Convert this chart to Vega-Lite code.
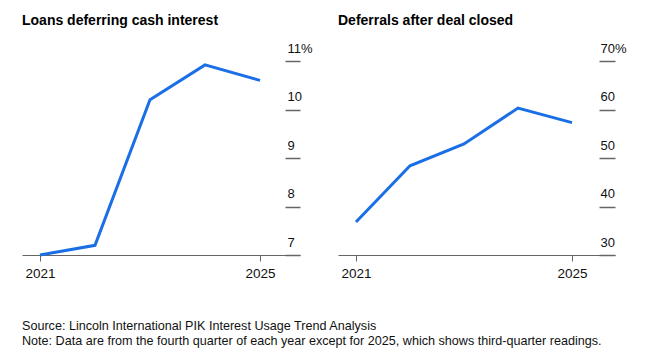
{
  "$schema": "https://vega.github.io/schema/vega-lite/v6.json",
  "background": "white",
  "padding": {"left": 22, "top": 14, "right": 10, "bottom": 5},
  "bounds": "flush",
  "spacing": 38,
  "config": {
    "font": "Liberation Sans",
    "view": {"stroke": null},
    "axis": {"labelFont": "Liberation Sans", "labelColor": "#111", "title": null, "grid": false}
  },
  "title": {
    "text": ["Source: Lincoln International PIK Interest Usage Trend Analysis", "Note: Data are from the fourth quarter of each year except for 2025, which shows third-quarter readings."],
    "orient": "bottom",
    "anchor": "start",
    "fontSize": 12.6,
    "fontWeight": "normal",
    "color": "#111",
    "lineHeight": 15.5,
    "offset": 40
  },
  "datasets": {
    "loans": [
      {"year": 2021, "value": 7.0},
      {"year": 2022, "value": 7.2},
      {"year": 2023, "value": 10.2},
      {"year": 2024, "value": 10.92},
      {"year": 2025, "value": 10.6}
    ],
    "deferrals": [
      {"year": 2021, "value": 36.8},
      {"year": 2022, "value": 48.4},
      {"year": 2023, "value": 52.9},
      {"year": 2024, "value": 60.3},
      {"year": 2025, "value": 57.3}
    ]
  },
  "hconcat": [
    {
      "width": 278,
      "height": 194,
      "title": {"text": "Loans deferring cash interest", "anchor": "start", "frame": "group", "fontSize": 14, "fontWeight": "bold", "color": "#000", "baseline": "alphabetic", "offset": 3},
      "data": {"name": "loans"},
      "mark": {"type": "line", "color": "#1b6fe6", "strokeWidth": 3},
      "encoding": {
        "x": {"field": "year", "type": "quantitative",
          "scale": {"domain": [2020.673, 2025.727], "nice": false, "zero": false},
          "axis": {"values": [2021, 2025], "format": "d", "domainColor": "#666", "tickColor": "#666", "tickSize": 6, "labelFontSize": 13.5, "labelPadding": 5, "labelFlush": false}},
        "y": {"field": "value", "type": "quantitative",
          "scale": {"domain": [7, 11], "nice": false, "zero": false},
          "axis": {"orient": "right", "offset": -15, "values": [7, 8, 9, 10, 11], "labelExpr": "datum.value == 11 ? '11%' : datum.label", "domain": false, "tickSize": 15, "tickWidth": 1.5, "tickColor": "#666", "labelAlign": "left", "labelBaseline": "alphabetic", "labelPadding": -13, "labelOffset": -9, "labelFontSize": 13}}
      }
    },
    {
      "width": 277,
      "height": 194,
      "title": {"text": "Deferrals after deal closed", "anchor": "start", "frame": "group", "fontSize": 14, "fontWeight": "bold", "color": "#000", "baseline": "alphabetic", "offset": 3},
      "data": {"name": "deferrals"},
      "mark": {"type": "line", "color": "#1b6fe6", "strokeWidth": 3},
      "encoding": {
        "x": {"field": "year", "type": "quantitative",
          "scale": {"domain": [2020.667, 2025.796], "nice": false, "zero": false},
          "axis": {"values": [2021, 2025], "format": "d", "domainColor": "#666", "tickColor": "#666", "tickSize": 6, "labelFontSize": 13.5, "labelPadding": 5, "labelFlush": false}},
        "y": {"field": "value", "type": "quantitative",
          "scale": {"domain": [30, 70], "nice": false, "zero": false},
          "axis": {"orient": "right", "offset": -16, "values": [30, 40, 50, 60, 70], "labelExpr": "datum.value == 70 ? '70%' : datum.label", "domain": false, "tickSize": 16, "tickWidth": 1.5, "tickColor": "#666", "labelAlign": "left", "labelBaseline": "alphabetic", "labelPadding": -15, "labelOffset": -9, "labelFontSize": 13}}
      }
    }
  ]
}
